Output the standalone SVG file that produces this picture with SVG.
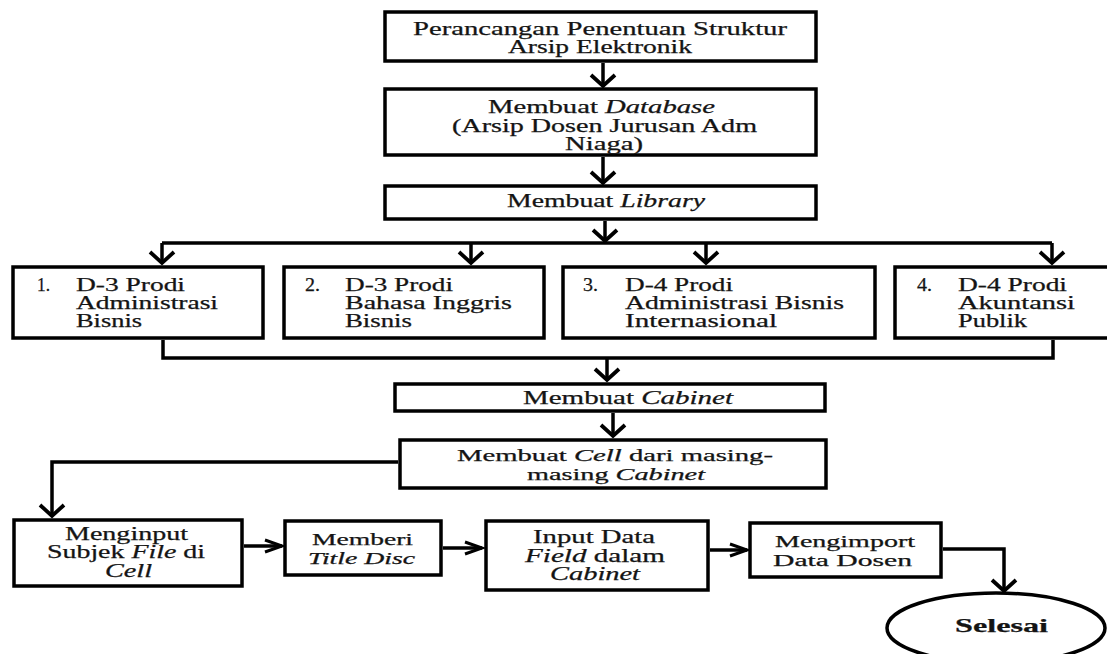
<svg xmlns="http://www.w3.org/2000/svg" width="1107" height="654" viewBox="0 0 1107 654">
<style>
.box{fill:#fff;stroke:#000;stroke-width:3.5}
.t{font-family:"Liberation Serif","Times New Roman",serif;font-size:18px;fill:#141414;stroke:#141414;stroke-width:0.25}
.s{font-size:16px}
.i{font-style:italic}
.b{font-weight:bold;font-size:19px}
.c{fill:none;stroke:#000;stroke-width:3.5}
</style>
<defs>
<marker id="av" markerUnits="userSpaceOnUse" markerWidth="30" markerHeight="30" viewBox="-15 -15 30 30" refX="0" refY="0" orient="auto" overflow="visible">
<path d="M-11,-12 L0,0 L-11,12" fill="none" stroke="#000" stroke-width="3.8"/>
</marker>
<marker id="ah" markerUnits="userSpaceOnUse" markerWidth="30" markerHeight="30" viewBox="-15 -15 30 30" refX="0" refY="0" orient="auto" overflow="visible">
<path d="M-17,-6 L0,0 L-17,6" fill="none" stroke="#000" stroke-width="3"/>
</marker>
</defs>
<rect width="1107" height="654" fill="#fff"/>
<g id="connectors">
<path class="c" d="M603,63 V86" marker-end="url(#av)"/>
<path class="c" d="M603,157 V183" marker-end="url(#av)"/>
<path class="c" d="M605,221 V241" marker-end="url(#av)"/>
<path class="c" d="M162,243 H1052"/>
<path class="c" d="M162,243 V263" marker-end="url(#av)"/>
<path class="c" d="M471,243 V263" marker-end="url(#av)"/>
<path class="c" d="M706,243 V263" marker-end="url(#av)"/>
<path class="c" d="M1052,243 V263" marker-end="url(#av)"/>
<path class="c" d="M163,340 V358 H1053 V340"/>
<path class="c" d="M607,358 V380" marker-end="url(#av)"/>
<path class="c" d="M613,413 V436" marker-end="url(#av)"/>
<path class="c" d="M398,462 H52 V516" marker-end="url(#av)"/>
<path class="c" d="M244,546 H282" marker-end="url(#ah)"/>
<path class="c" d="M443,548 H482" marker-end="url(#ah)"/>
<path class="c" d="M710,550 H747" marker-end="url(#ah)"/>
<path class="c" d="M943,549 H1004 V591" marker-end="url(#av)"/>
</g>
<g id="n1">
<rect class="box" x="385" y="12" width="431" height="49"/>
<text class="t" x="413" y="35" textLength="374" lengthAdjust="spacingAndGlyphs">Perancangan Penentuan Struktur</text>
<text class="t" x="508" y="53" textLength="184" lengthAdjust="spacingAndGlyphs">Arsip  Elektronik</text>
</g>
<g id="n2">
<rect class="box" x="385" y="89" width="431" height="66"/>
<text class="t" x="488" y="113" textLength="227" lengthAdjust="spacingAndGlyphs">Membuat <tspan class="i">Database</tspan></text>
<text class="t" x="452" y="132" textLength="305" lengthAdjust="spacingAndGlyphs">(Arsip  Dosen Jurusan Adm</text>
<text class="t" x="565" y="150" textLength="78" lengthAdjust="spacingAndGlyphs">Niaga)</text>
</g>
<g id="n3">
<rect class="box" x="385" y="186" width="431" height="33"/>
<text class="t" x="507" y="207" textLength="198" lengthAdjust="spacingAndGlyphs">Membuat <tspan class="i">Library</tspan></text>
</g>
<g id="nA">
<rect class="box" x="13" y="267" width="250" height="71"/>
<text class="t" x="37" y="291" textLength="13" lengthAdjust="spacingAndGlyphs">1.</text>
<text class="t" x="76" y="291" textLength="109" lengthAdjust="spacingAndGlyphs">D-3 Prodi</text>
<text class="t" x="76" y="309" textLength="142" lengthAdjust="spacingAndGlyphs">Administrasi</text>
<text class="t" x="76" y="327" textLength="66" lengthAdjust="spacingAndGlyphs">Bisnis</text>
</g>
<g id="nB">
<rect class="box" x="284" y="267" width="260" height="71"/>
<text class="t" x="305" y="291" textLength="15" lengthAdjust="spacingAndGlyphs">2.</text>
<text class="t" x="345" y="291" textLength="108" lengthAdjust="spacingAndGlyphs">D-3 Prodi</text>
<text class="t" x="345" y="309" textLength="167" lengthAdjust="spacingAndGlyphs">Bahasa Inggris</text>
<text class="t" x="345" y="327" textLength="67" lengthAdjust="spacingAndGlyphs">Bisnis</text>
</g>
<g id="nC">
<rect class="box" x="563" y="267" width="312" height="71"/>
<text class="t" x="583" y="291" textLength="15" lengthAdjust="spacingAndGlyphs">3.</text>
<text class="t" x="625" y="291" textLength="108" lengthAdjust="spacingAndGlyphs">D-4 Prodi</text>
<text class="t" x="625" y="309" textLength="219" lengthAdjust="spacingAndGlyphs">Administrasi Bisnis</text>
<text class="t" x="625" y="327" textLength="152" lengthAdjust="spacingAndGlyphs">Internasional</text>
</g>
<g id="nD">
<rect class="box" x="895" y="267" width="220" height="71"/>
<text class="t" x="917" y="291" textLength="15" lengthAdjust="spacingAndGlyphs">4.</text>
<text class="t" x="958" y="291" textLength="109" lengthAdjust="spacingAndGlyphs">D-4 Prodi</text>
<text class="t" x="958" y="309" textLength="117" lengthAdjust="spacingAndGlyphs">Akuntansi</text>
<text class="t" x="958" y="327" textLength="69" lengthAdjust="spacingAndGlyphs">Publik</text>
</g>
<g id="nCabinet">
<rect class="box" x="395" y="384" width="430" height="27"/>
<text class="t" x="523" y="404" textLength="210" lengthAdjust="spacingAndGlyphs">Membuat <tspan class="i">Cabinet</tspan></text>
</g>
<g id="nCell">
<rect class="box" x="400" y="440" width="426" height="48"/>
<text class="t s" x="457" y="461" textLength="316" lengthAdjust="spacingAndGlyphs">Membuat <tspan class="i">Cell</tspan> dari masing-</text>
<text class="t s" x="527" y="480" textLength="178" lengthAdjust="spacingAndGlyphs">masing <tspan class="i">Cabinet</tspan></text>
</g>
<g id="nE">
<rect class="box" x="14" y="520" width="228" height="66"/>
<text class="t" x="65" y="540" textLength="123" lengthAdjust="spacingAndGlyphs">Menginput</text>
<text class="t" x="47" y="558" textLength="158" lengthAdjust="spacingAndGlyphs">Subjek <tspan class="i">File</tspan> di</text>
<text class="t i" x="105" y="577" textLength="47" lengthAdjust="spacingAndGlyphs">Cell</text>
</g>
<g id="nF">
<rect class="box" x="285" y="521" width="156" height="54"/>
<text class="t s" x="312" y="545" textLength="101" lengthAdjust="spacingAndGlyphs">Memberi</text>
<text class="t s i" x="308" y="564" textLength="107" lengthAdjust="spacingAndGlyphs">Title Disc</text>
</g>
<g id="nG">
<rect class="box" x="486" y="521" width="222" height="69"/>
<text class="t" x="533" y="543" textLength="122" lengthAdjust="spacingAndGlyphs">Input Data</text>
<text class="t" x="525" y="562" textLength="140" lengthAdjust="spacingAndGlyphs"><tspan class="i">Field</tspan> dalam</text>
<text class="t i" x="550" y="580" textLength="90" lengthAdjust="spacingAndGlyphs">Cabinet</text>
</g>
<g id="nH">
<rect class="box" x="750" y="523" width="191" height="54"/>
<text class="t s" x="775" y="547" textLength="140" lengthAdjust="spacingAndGlyphs">Mengimport</text>
<text class="t s" x="773" y="566" textLength="139" lengthAdjust="spacingAndGlyphs">Data Dosen</text>
</g>
<g id="nEnd">
<ellipse class="box" cx="996" cy="628" rx="109" ry="35"/>
<text class="t b" x="955" y="632" textLength="93" lengthAdjust="spacingAndGlyphs">Selesai</text>
</g>
</svg>
